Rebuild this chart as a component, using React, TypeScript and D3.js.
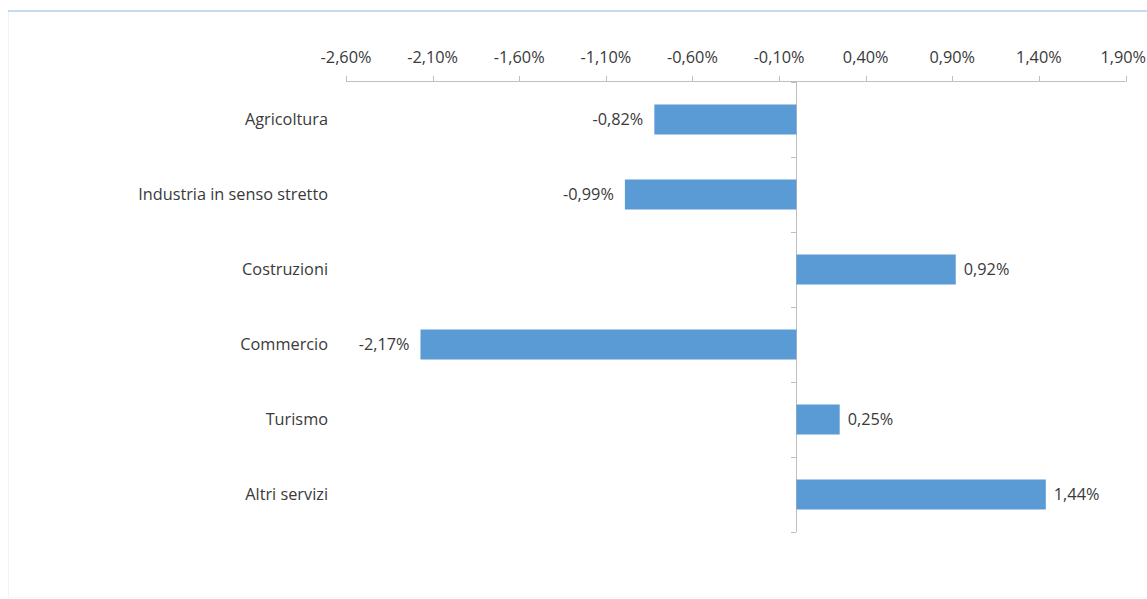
import React from "react";
import * as d3 from "d3";

const categories = [
  "Agricoltura",
  "Industria in senso stretto",
  "Costruzioni",
  "Commercio",
  "Turismo",
  "Altri servizi",
];
const values = [-0.82, -0.99, 0.92, -2.17, 0.25, 1.44];
const tickValues = [-2.6, -2.1, -1.6, -1.1, -0.6, -0.1, 0.4, 0.9, 1.4, 1.9];

const W = 1147;
const H = 599;
const FONT = "'Open Sans', sans-serif";
const TEXT = "#3a3a3a";
const AXIS = "#bfbfbf";

const fmt = (v: number) => v.toFixed(2).replace(".", ",") + "%";

export default function App() {
  const x = d3.scaleLinear().domain([-2.6, 1.9]).range([346, 1125.5]);
  const y = d3.scaleBand<string>().domain(categories).range([82, 532]).paddingInner(0.6).paddingOuter(0.3);
  const yb = d3.scaleBand<string>().domain(categories).range([82, 532]);
  const x0 = x(0);
  return (
    <svg
      width={W}
      height={H}
      style={{ position: "absolute", left: 0, top: 0, background: "#fff" }}
      fontFamily={FONT}
    >
      <line x1={8} x2={W} y1={11} y2={11} stroke="#c6d9f0" strokeWidth={2} />
      <line x1={8.5} x2={8.5} y1={12} y2={597} stroke="#f0f4fa" strokeWidth={1} />
      <line x1={8} x2={W} y1={597.5} y2={597.5} stroke="#f3f6fa" strokeWidth={1} />
      {/* top axis */}
      <line x1={x(-2.6)} x2={x(1.9)} y1={81.5} y2={81.5} stroke={AXIS} />
      {tickValues.map((t, i) => (
        <g key={t}>
          <line x1={Math.round(x(t)) + 0.5} x2={Math.round(x(t)) + 0.5} y1={76} y2={82} stroke={AXIS} />
          <text
            x={i === tickValues.length - 1 ? W - 1 : x(t)}
            y={57}
            dy="0.35em"
            textAnchor={i === tickValues.length - 1 ? "end" : "middle"}
            fontSize={16.3}
            fill={TEXT}
          >
            {fmt(t)}
          </text>
        </g>
      ))}
      {/* vertical axis at zero */}
      <line x1={Math.round(x0) + 0.5} x2={Math.round(x0) + 0.5} y1={82} y2={532} stroke={AXIS} />
      {[0, 1, 2, 3, 4, 5, 6].map((i) => {
        const yy = 82 + i * yb.step();
        return (
          <line key={i} x1={Math.round(x0) - 5} x2={Math.round(x0)} y1={Math.round(yy) + 0.5} y2={Math.round(yy) + 0.5} stroke={AXIS} />
        );
      })}
      {categories.map((c, i) => {
        const v = values[i];
        const yy = y(c)!;
        const h = y.bandwidth();
        const xs = Math.min(x(v), x0);
        const w = Math.abs(x(v) - x0);
        const cy = yy + h / 2;
        return (
          <g key={c}>
            <rect x={xs} y={yy} width={w} height={h} fill="#5b9bd5" />
            <text x={328} y={cy} dy="0.35em" textAnchor="end" fontSize={16.3} fill={TEXT}>
              {c}
            </text>
            <text
              x={v < 0 ? x(v) - 11 : x(v) + 8}
              y={cy}
              dy="0.35em"
              textAnchor={v < 0 ? "end" : "start"}
              fontSize={16.3}
              fill={TEXT}
            >
              {fmt(v)}
            </text>
          </g>
        );
      })}
    </svg>
  );
}
